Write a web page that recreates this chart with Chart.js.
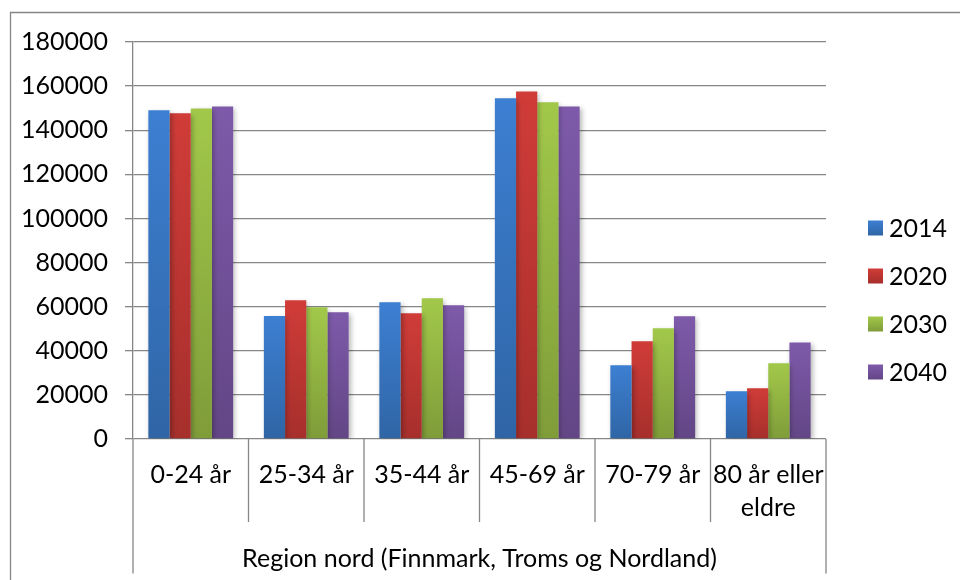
<!DOCTYPE html>
<html><head><meta charset="utf-8">
<script src="https://cdn.jsdelivr.net/npm/chart.js@4/dist/chart.umd.min.js"></script>
<style>html,body{margin:0;padding:0;background:#fff;} canvas{display:block;}</style>
</head><body>
<canvas id="c" width="960" height="580"></canvas>
<script>
// ---- data ----
const categories = [['0-24 år'], ['25-34 år'], ['35-44 år'], ['45-69 år'], ['70-79 år'], ['80 år eller', 'eldre']];
const groupLabel = 'Region nord (Finnmark, Troms og Nordland)';
const seriesNames = ['2014', '2020', '2030', '2040'];
const v2014 = [149000, 55800, 62000, 154500, 33400, 21600];
const v2020 = [147700, 62900, 57000, 157600, 44300, 23000];
const v2030 = [149900, 59700, 63800, 152700, 50200, 34300];
const v2040 = [150800, 57500, 60600, 150800, 55600, 43800];
const yTicks = [0, 20000, 40000, 60000, 80000, 100000, 120000, 140000, 160000, 180000];

// ---- styles ----
const topColors = ['#3d7fd2', '#d03c38', '#a2c84a', '#7e5aaa'];
const botColors = ['#2f65a5', '#a62f2c', '#7f9c39', '#624685'];
const FONT = 'Lato, "Liberation Sans", sans-serif';
const FS = 25;
const GRID = '#868686';

function barFill(i) {
  return (ctx) => {
    const ch = ctx.chart, ys = ch.scales && ch.scales.y;
    if (!ys || !ch.chartArea || ctx.raw == null) return topColors[i];
    const yTop = ys.getPixelForValue(ctx.raw), yBot = ys.getPixelForValue(0);
    if (!isFinite(yTop) || !isFinite(yBot) || yTop === yBot) return topColors[i];
    const g = ch.ctx.createLinearGradient(0, yTop, 0, yBot);
    g.addColorStop(0, topColors[i]);
    g.addColorStop(1, botColors[i]);
    return g;
  };
}

const seriesValues = [v2014, v2020, v2030, v2040];
const datasets = seriesNames.map((name, i) => ({
  label: name,
  data: seriesValues[i],
  backgroundColor: barFill(i),
  borderWidth: 0,
  categoryPercentage: 0.734,
  barPercentage: 1.0
}));

const shadowPlugin = {
  id: 'shadow',
  beforeDatasetsDraw(chart) {
    const c = chart.ctx; c.save();
    c.shadowColor = 'rgba(0,0,0,0.28)'; c.shadowBlur = 5; c.shadowOffsetX = 2; c.shadowOffsetY = 2;
  },
  afterDatasetsDraw(chart) { chart.ctx.restore(); }
};

const decoPlugin = {
  id: 'deco',
  afterDraw(chart) {
    const c = chart.ctx, xs = chart.scales.x, area = chart.chartArea;
    c.save();
    c.strokeStyle = GRID; c.lineWidth = 1.3;
    // outer frame
    c.beginPath();
    c.moveTo(10.5, 600); c.lineTo(10.5, 12.5); c.lineTo(980, 12.5);
    c.stroke();
    // category separators
    const n = categories.length;
    const half = (xs.getPixelForValue(1) - xs.getPixelForValue(0)) / 2;
    for (let i = 0; i <= n; i++) {
      const x = (i < n ? xs.getPixelForValue(i) - half : xs.getPixelForValue(n - 1) + half);
      const end = (i === 0 || i === n) ? area.bottom + 134.5 : area.bottom + 83;
      c.beginPath(); c.moveTo(x, area.bottom); c.lineTo(x, end); c.stroke();
    }
    // legend
    c.font = FS + 'px ' + FONT; c.textBaseline = 'middle'; c.textAlign = 'left';
    seriesNames.forEach((name, i) => {
      const cy = 228 + i * 48;
      const g = c.createLinearGradient(0, cy - 7.5, 0, cy + 7.5);
      g.addColorStop(0, topColors[i]); g.addColorStop(1, botColors[i]);
      c.fillStyle = g;
      c.fillRect(868, cy - 7.5, 15, 15);
      c.fillStyle = '#000';
      c.fillText(name, 889, cy + 1);
    });
    c.restore();
  }
};

new Chart(document.getElementById('c'), {
  type: 'bar',
  data: { labels: categories, datasets },
  plugins: [shadowPlugin, decoPlugin],
  options: {
    responsive: false,
    animation: false,
    devicePixelRatio: 1,
    layout: { padding: { top: 42, left: 0, right: 134, bottom: 6 } },
    plugins: { legend: { display: false }, tooltip: { enabled: false } },
    scales: {
      y: {
        min: 0, max: 180000,
        afterBuildTicks(scale) { scale.ticks = yTicks.map(v => ({ value: v })); },
        afterFit(scale) { scale.width = 133; },
        ticks: { color: '#000', padding: 17, font: { family: FONT, size: FS, lineHeight: 1.2 },
                 callback: (v) => String(v) },
        grid: { color: GRID, lineWidth: 1.3, tickLength: 8, drawTicks: true },
        border: { display: true, color: GRID, width: 1.3 }
      },
      x: {
        offset: true,
        afterFit(scale) { scale.height = 135; },
        grid: { display: false, drawTicks: false },
        border: { display: false },
        ticks: { color: '#000', padding: 20, maxRotation: 0, autoSkip: false,
                 font: { family: FONT, size: FS, lineHeight: 1.3 } },
        title: { display: true, text: groupLabel, color: '#000', padding: 0,
                 font: { family: FONT, size: FS, lineHeight: 1.2 } }
      }
    }
  }
});
</script>
</body></html>
